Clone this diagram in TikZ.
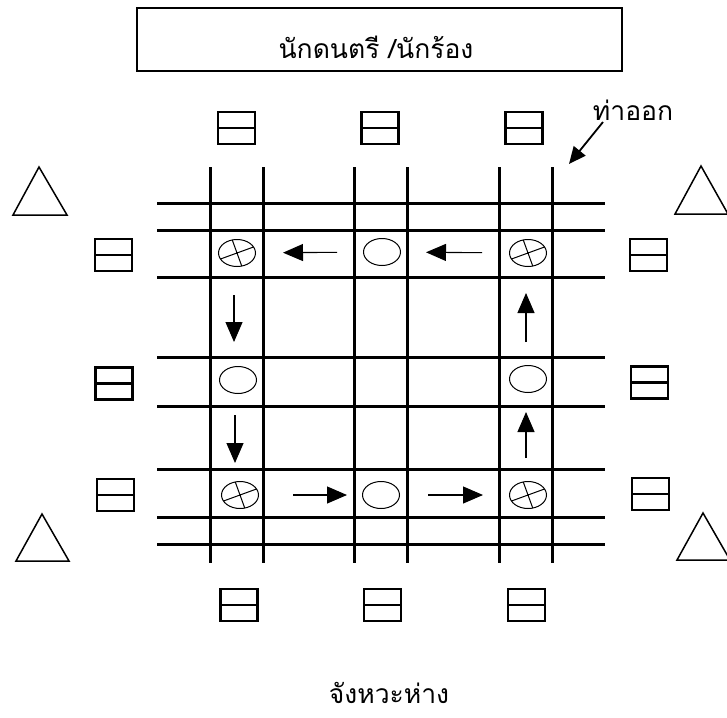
\documentclass[tikz,border=0pt]{standalone}
\usepackage{fontspec}
\newfontfamily\thaifont[Script=Thai]{Loma}
\usetikzlibrary{arrows.meta,shapes.geometric}
\begin{document}
\begin{tikzpicture}[x=1pt,y=-1pt,
  gridline/.style={line width=3pt},
  seat/.style={draw,line width=2.6pt,rectangle,minimum width=37pt,minimum height=32pt,inner sep=0pt,
    path picture={\draw[line width=2.2pt] (path picture bounding box.west) -- (path picture bounding box.east);}},
  spot/.style={draw,ellipse,line width=1pt,minimum width=37pt,minimum height=27pt,inner sep=0pt},
  xspot/.style={spot,path picture={
    \draw[line width=1pt]
      ([shift={(-70:20pt)}]path picture bounding box.center) -- ([shift={(110:20pt)}]path picture bounding box.center)
      ([shift={(20:24pt)}]path picture bounding box.center) -- ([shift={(200:24pt)}]path picture bounding box.center);}},
  flow/.style={line width=1.1pt,-{Triangle[length=20pt,width=17pt]}},
  tri/.style={line width=1.5pt,line join=miter},
  lbl/.style={font=\thaifont\fontsize{26.5}{30}\selectfont,inner sep=0pt,anchor=base}
]
\useasboundingbox (0,0) rectangle (727,717);
% title
\node[draw,line width=1.2pt,minimum width=485pt,minimum height=63pt,inner sep=0pt] (titlebox) at (379.5,39.5) {};
\node[lbl] (title) at (376,58) {นักดนตรี /นักร้อง};
% grid
\foreach \x/\n in {210/v1,263/v2,354/v3,407/v4,499/v5,552/v6}
  \draw[gridline] (\x,167) coordinate (\n t) -- (\x,563) coordinate (\n b);
\foreach \y/\n in {203/h1,230/h2,277/h3,357/h4,406/h5,469/h6,517/h7,544/h8}
  \draw[gridline] (157,\y) coordinate (\n l) -- (605,\y) coordinate (\n r);
% seats
\node[seat] (st1) at (236.5,128) {};
\node[seat] (st2) at (380,128) {};
\node[seat] (st3) at (524,128) {};
\node[seat] (sb1) at (239,605) {};
\node[seat] (sb2) at (382.5,605) {};
\node[seat] (sb3) at (526.5,605) {};
\node[seat] (sl1) at (113.5,255) {};
\node[seat] (sl2) at (114,383.5) {};
\node[seat] (sl3) at (115.5,495) {};
\node[seat] (sr1) at (648.5,255) {};
\node[seat] (sr2) at (649.5,382.5) {};
\node[seat] (sr3) at (650.5,494) {};
% triangles
\draw[tri] (39,167) -- (67,215) -- (13,215) -- cycle;
\draw[tri] (42,514) -- (69,561) -- (16,561) -- cycle;
\draw[tri] (701,166) -- (728,214) -- (675,214) -- cycle;
\draw[tri] (703,513) -- (730,560) -- (677,560) -- cycle;
% spots
\node[xspot] (ptl) at (237,253) {};
\node[spot]  (ptm) at (382,252) {};
\node[xspot] (ptr) at (528,253) {};
\node[spot]  (pml) at (238,380) {};
\node[spot]  (pmr) at (528,379) {};
\node[xspot] (pbl) at (240,495) {};
\node[spot]  (pbm) at (381,495) {};
\node[xspot] (pbr) at (528,495) {};
% flow arrows
\draw[flow,shorten <=27pt,shorten >=25pt] (ptr) -- (ptm);
\draw[flow,shorten <=26pt,shorten >=27pt] (ptm) -- (ptl);
\draw[flow,shorten <=42pt,shorten >=38pt] ([xshift=-3pt]ptl.center) -- ([xshift=-4pt]pml.center);
\draw[flow,shorten <=35pt,shorten >=32pt] ([xshift=-3pt]pml.center) -- ([xshift=-5pt]pbl.center);
\draw[flow,shorten <=34pt,shorten >=15pt] (pbl) -- (pbm);
\draw[flow,shorten <=28pt,shorten >=26pt] (pbm) -- (pbr);
\draw[flow,shorten <=37pt,shorten >=33pt] ([xshift=-2pt]pbr.center) -- ([xshift=-2pt]pmr.center);
\draw[flow,shorten <=37pt,shorten >=40pt] ([xshift=-2pt]pmr.center) -- ([xshift=-2pt]ptr.center);
% exit label
\node[lbl] (exit) at (633,120) {ท่าออก};
\coordinate (exitpt) at (569,164);
\draw[line width=1.8pt,-{Triangle[length=17pt,width=15pt]}] (603,122) -- (exitpt);
% bottom label
\node[lbl] (rhythm) at (389,703) {จังหวะห่าง};
\end{tikzpicture}
\end{document}
